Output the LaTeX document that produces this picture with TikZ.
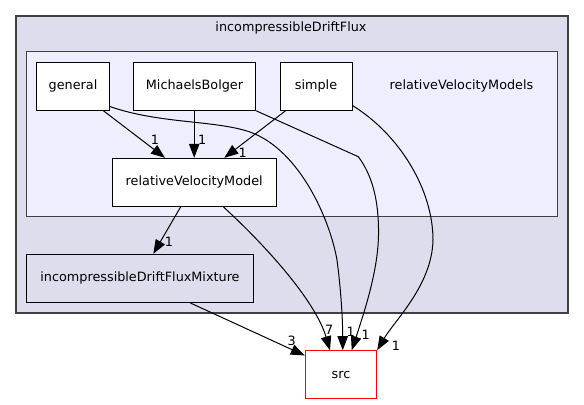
\documentclass[tikz,border=0pt]{standalone}
\usepackage{fontspec}
\setmainfont{DejaVu Sans}
\usetikzlibrary{arrows.meta}
\definecolor{clout}{HTML}{DDDDEE}
\definecolor{clin}{HTML}{EEEEFF}
\definecolor{clborder}{HTML}{404040}
\begin{document}
\begin{tikzpicture}[x=1bp,y=-1bp,
  every node/.style={font=\fontsize{12.8bp}{15bp}\selectfont, inner sep=0pt},
  dirbox/.style={draw=black, fill=white, line width=1bp, minimum height=48bp},
  edge/.style={draw=black, line width=1bp, -{Triangle[length=14bp,width=10.5bp]}},
  lbl/.style={font=\fontsize{12.8bp}{15bp}\selectfont}]
\useasboundingbox (0,0) rectangle (584,404);
% clusters
\draw[fill=clout, draw=clborder, line width=1.6bp] (15.7,15.7) rectangle (568,312.7);
\node (t1) at (291,27.5) {incompressibleDriftFlux};
\draw[fill=clin, draw=clborder, line width=1.2bp] (26.7,51.7) rectangle (557.3,216.7);
\node (t2) at (461.5,86) {relativeVelocityModels};
% nodes
\node[dirbox, minimum width=72.6bp] (general) at (73,86.3) {general};
\node[dirbox, minimum width=122.4bp] (mb) at (194.5,86.3) {MichaelsBolger};
\node[dirbox, minimum width=72bp] (simple) at (316,86.3) {simple};
\node[dirbox, minimum width=163.7bp] (rvm) at (194.2,182.3) {relativeVelocityModel};
\node[dirbox, fill=clout, minimum width=226.6bp] (mix) at (140,278.3) {incompressibleDriftFluxMixture};
\node[dirbox, draw=red, minimum width=71.4bp, minimum height=47.6bp] (src) at (341,374.5) {src};
% edges inside
\draw[edge] ([xshift=-6.3bp]general.south east) -- ([xshift=-29.2bp]rvm.north);
\node[lbl] at (155,140) {1};
\draw[edge] (rvm.north |- mb.south) -- (rvm.north);
\node[lbl] at (202.3,140) {1};
\draw[edge] ([xshift=6bp]simple.south west) -- ([xshift=30.1bp]rvm.north);
\node[lbl] at (242.7,153.3) {1};
\draw[edge] ([xshift=-13.5bp]rvm.south) -- ([xshift=13.3bp]mix.north);
\node[lbl] at (169,241.7) {1};
% edges to src
\draw[edge] ([yshift=4.3bp]general.south east) .. controls (160,124) and (215,120) .. (250,132) .. controls (300,150) and (330,220) .. (337,260) .. controls (341,290) and (342.7,320) .. ([xshift=1.7bp]src.north);
\node[lbl] at (350.7,331.7) {1};
\draw[edge] (mb.south east) -- (358.3,156.7) .. controls (372,175) and (379,200) .. (378.5,235) .. controls (378,270) and (365,310) .. ([xshift=10.7bp]src.north);
\node[lbl] at (365.7,335) {1};
\draw[edge] ([yshift=5.3bp]simple.south east) .. controls (400,135) and (433,190) .. (433,240) .. controls (432,285) and (395,320) .. (src.north east);
\node[lbl] at (396,346) {1};
\draw[edge] ([xshift=29.1bp]rvm.south) .. controls (265,245) and (315,300) .. ([xshift=-11bp]src.north);
\node[lbl] at (329.3,330) {7};
\draw[edge] ([xshift=50bp]mix.south) -- ([yshift=-5.3bp]src.north west);
\node[lbl] at (291.7,340.7) {3};
\end{tikzpicture}
\end{document}
